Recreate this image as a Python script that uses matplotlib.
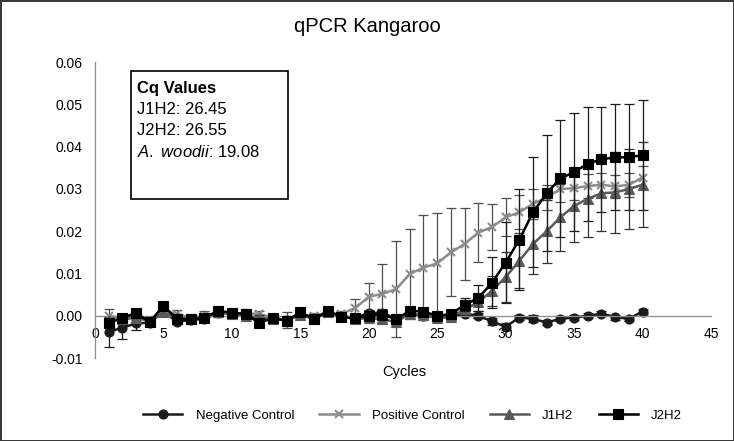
import matplotlib
matplotlib.use('Agg')
import matplotlib.pyplot as plt
from matplotlib.patches import Rectangle
from matplotlib.ticker import FuncFormatter

plt.rcParams['font.family'] = 'Liberation Sans'
plt.rcParams['mathtext.fontset'] = 'custom'
plt.rcParams['mathtext.it'] = 'Liberation Sans:italic'
plt.rcParams['mathtext.rm'] = 'Liberation Sans'

# qPCR amplification, mean +- error per cycle
cycles = list(range(1, 41))

neg_ctrl = [-0.0038, -0.0028, -0.0018, -0.0016, 0.001, -0.0014, -0.001, -0.0007, 0.0006, 0.0006,
            0.0005, -0.001, -0.0005, -0.001, 0.0005, -0.0005, 0.0008, 0.0, -0.0005, 0.0007,
            0.0007, -0.0007, 0.0005, 0.0, -0.0004, -0.0003, 0.0005, 0.0, -0.0013, -0.0026,
            -0.0004, -0.0007, -0.0016, -0.0007, -0.0004, 0.0, 0.0005, -0.0003, -0.0007, 0.001]
neg_err = [0.0035, 0.0026, 0.0015, 0.0008, 0.0008, 0.0006, 0.0006, 0.0008, 0.0006, 0.0006,
           0.0008, 0.0006, 0.0006, 0.0008, 0.0006, 0.0006, 0.0006, 0.0006, 0.0006, 0.0006,
           0.0008, 0.0006, 0.0006, 0.0006, 0.0006, 0.0006, 0.0006, 0.0006, 0.0008, 0.0008,
           0.0006, 0.0008, 0.0006, 0.0006, 0.0006, 0.0006, 0.0006, 0.0006, 0.0006, 0.0006]

pos_ctrl = [0.0, -0.0005, 0.0, -0.001, 0.001, 0.0005, -0.0005, 0.0, 0.0005, 0.0005,
            0.0005, 0.0005, -0.0005, -0.001, 0.0, 0.0, 0.0005, 0.0005, 0.0018, 0.0045,
            0.0052, 0.0063, 0.0099, 0.0114, 0.0124, 0.015, 0.017, 0.0197, 0.021, 0.0233,
            0.0245, 0.0265, 0.028, 0.030, 0.0302, 0.0307, 0.031, 0.0306, 0.031, 0.0327]
pos_err = [0.0015, 0.0008, 0.0006, 0.0006, 0.0008, 0.0008, 0.0006, 0.0012, 0.0008, 0.0006,
           0.0012, 0.0006, 0.0006, 0.0018, 0.0006, 0.0006, 0.0006, 0.0006, 0.0022, 0.0033,
           0.007, 0.0114, 0.0107, 0.0124, 0.012, 0.0104, 0.0085, 0.007, 0.0055, 0.0045,
           0.004, 0.0035, 0.003, 0.003, 0.0028, 0.0028, 0.0028, 0.0028, 0.0028, 0.0028]

j1h2 = [-0.001, -0.0008, -0.0005, -0.0012, 0.0008, -0.0005, -0.0007, -0.0003, 0.0008, 0.0005,
        0.0, -0.0005, -0.0008, -0.001, 0.0003, -0.0008, 0.0008, 0.0, -0.0008, -0.0005,
        -0.0008, -0.0015, 0.0005, 0.0002, -0.0005, -0.0002, 0.0015, 0.0032, 0.0059, 0.0092,
        0.013, 0.017, 0.020, 0.0233, 0.026, 0.0277, 0.029, 0.0292, 0.030, 0.031]
j1h2_err = [0.0006, 0.0006, 0.0006, 0.0006, 0.0006, 0.0006, 0.0006, 0.0006, 0.0006, 0.0006,
            0.0006, 0.0006, 0.0006, 0.0006, 0.0006, 0.0006, 0.0006, 0.0006, 0.0006, 0.0006,
            0.0006, 0.0006, 0.0006, 0.0006, 0.0006, 0.0006, 0.001, 0.002, 0.0035, 0.006,
            0.0065, 0.007, 0.0075, 0.008, 0.0085, 0.009, 0.009, 0.0095, 0.0095, 0.01]

j2h2 = [-0.0017, -0.0005, 0.0007, -0.0015, 0.0024, -0.0008, -0.0008, -0.0005, 0.0012, 0.0007,
        0.0005, -0.0017, -0.0005, -0.0012, 0.0009, -0.0008, 0.0012, -0.0003, -0.0006, 0.0,
        0.0003, -0.0008, 0.0012, 0.001, 0.0, 0.0004, 0.0026, 0.0042, 0.0078, 0.0126,
        0.018, 0.0245, 0.029, 0.0325, 0.034, 0.036, 0.037, 0.0375, 0.0375, 0.038]
j2h2_err = [0.0005, 0.0005, 0.0005, 0.0005, 0.0005, 0.0005, 0.0005, 0.0005, 0.0005, 0.0005,
            0.0005, 0.0005, 0.0005, 0.0005, 0.0005, 0.0005, 0.0005, 0.0005, 0.0005, 0.0005,
            0.0005, 0.0005, 0.0005, 0.0005, 0.0005, 0.0005, 0.0015, 0.003, 0.006, 0.0095,
            0.012, 0.013, 0.0137, 0.0138, 0.014, 0.0135, 0.0125, 0.0125, 0.0125, 0.013]

fig = plt.figure(figsize=(7.34, 4.41), dpi=100, facecolor='white',
                 edgecolor='#3a3a3a', linewidth=2)
ax = fig.add_axes([0.1294, 0.188, 0.8392, 0.671])

series = [
    ('Negative Control', neg_ctrl, neg_err, '#1a1a1a', 'o', 6.5, '#1a1a1a'),
    ('Positive Control', pos_ctrl, pos_err, '#8c8c8c', 'x', 6, '#4d4d4d'),
    ('J1H2', j1h2, j1h2_err, '#595959', '^', 7, '#333333'),
    ('J2H2', j2h2, j2h2_err, '#000000', 's', 7, '#1a1a1a'),
]
z = 2
for label, vals, err, col, mk, ms, ecol in series:
    ax.errorbar(cycles, vals, yerr=err, fmt='none', ecolor=ecol, elinewidth=0.9,
                capsize=3.5, capthick=0.9, zorder=z)
    ax.plot(cycles, vals, color=col, marker=mk, markersize=ms, linewidth=1.8,
            markeredgewidth=1.5 if mk == 'x' else 0.8, label=label, zorder=z + 0.5)
    z += 1

ax.set_xlim(0, 45)
ax.set_ylim(-0.01, 0.06)
ax.set_xticks(range(0, 46, 5))
ax.set_yticks([-0.01, 0.0, 0.01, 0.02, 0.03, 0.04, 0.05, 0.06])
ax.yaxis.set_major_formatter(FuncFormatter(lambda v, p: '%.2f' % v))
ax.spines['top'].set_visible(False)
ax.spines['right'].set_visible(False)
ax.spines['bottom'].set_position(('data', 0))
for s in ('left', 'bottom'):
    ax.spines[s].set_color('#8c8c8c')
    ax.spines[s].set_linewidth(0.9)
ax.tick_params(axis='both', length=0, labelsize=10, colors='black')
ax.tick_params(axis='y', pad=9)
ax.tick_params(axis='x', pad=8)

fig.text(0.5, 0.941, 'qPCR Kangaroo', ha='center', va='center', fontsize=14.5)
fig.text(0.551, 0.156, 'Cycles', ha='center', va='center', fontsize=10.5)

# Cq values box
fig.add_artist(Rectangle((0.1785, 0.549), 0.214, 0.290, transform=fig.transFigure,
                         fill=False, edgecolor='black', linewidth=1.2))
fig.text(0.187, 0.800, 'Cq Values', ha='left', va='center', fontsize=12, fontweight='bold')
fig.text(0.187, 0.751, 'J1H2: 26.45', ha='left', va='center', fontsize=12)
fig.text(0.187, 0.703, 'J2H2: 26.55', ha='left', va='center', fontsize=12)
fig.text(0.187, 0.655, r'$\mathit{A.\ woodii}$: 19.08', ha='left', va='center', fontsize=12)

fig.legend(loc='center', bbox_to_anchor=(0.562, 0.058), ncol=4, frameon=False,
           fontsize=9.5, handlelength=3.0, columnspacing=1.9, handletextpad=1.0)

fig.savefig('out.png', dpi=100, edgecolor=fig.get_edgecolor())
